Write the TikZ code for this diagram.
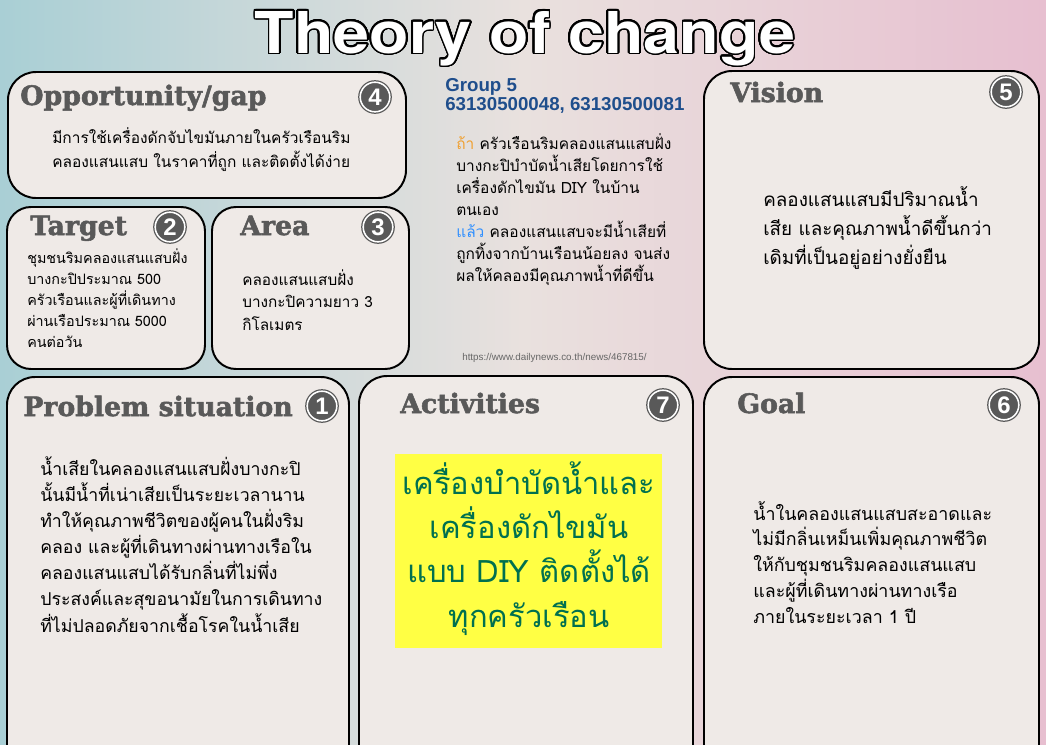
\documentclass[tikz,border=0pt]{standalone}
\usepackage{fontspec}
\usepackage{contour}
\setmainfont{Liberation Sans}
\newfontfamily\thaifont[Script=Thai]{Loma}
\newfontfamily\headfont[BoldFeatures={FakeBold=2}]{DejaVu Serif}
\newfontfamily\titlefont[FakeStretch=1.12]{TeX Gyre Heros}
\usetikzlibrary{positioning}
\contourlength{1.2pt}
\contournumber{32}

\definecolor{bgteal}{HTML}{A9CFD5}
\definecolor{bgmid}{HTML}{E9E1DE}
\definecolor{bgpink}{HTML}{E7BFD0}
\definecolor{cardfill}{HTML}{EFEAE7}
\definecolor{headgrey}{HTML}{595959}
\definecolor{groupblue}{HTML}{1F4E8C}
\definecolor{ifyellow}{HTML}{F0A030}
\definecolor{thenblue}{HTML}{2F8FFF}
\definecolor{actgreen}{HTML}{00704F}
\definecolor{actyellow}{HTML}{FFFF44}
\definecolor{urlgrey}{HTML}{666666}

\tikzset{
  card/.style={draw=black, line width=1.4pt, fill=cardfill, rounded corners=0.7cm},
  smallcard/.style={card, rounded corners=0.6cm},
  head/.style={anchor=base west, inner sep=0pt, text=headgrey,
    font=\headfont\bfseries\fontsize{19}{22}\selectfont},
  badge/.style={circle, fill=headgrey, draw=headgrey, double=white,
    double distance=1.1pt, line width=0.9pt, minimum size=0.74cm, inner sep=0pt,
    text=white, font=\bfseries\fontsize{17}{17}\selectfont},
  % anchor at the baseline of the last line
  body/.style 2 args={anchor=base west, inner sep=0pt, align=left,
    font=\thaifont\fontsize{#1}{#2}\selectfont},
  titletext/.style={anchor=base, inner sep=0pt, text=white, font=\titlefont\bfseries\fontsize{41}{41}\selectfont}
}

\begin{document}
\begin{tikzpicture}[x=0.025cm, y=-0.025cm]
  \useasboundingbox (0,0) rectangle (1046,744);
  \clip (0,0) rectangle (1046,744);
  % background
  \fill[left color=bgteal, right color=bgpink, middle color=bgmid] (0,0) rectangle (1046,744);

  % title
  \node[titletext] (title) at (525,53) {\contour{black}{Theory of change}};

  % cards
  \path[card] (8,72) rectangle (406,198);
  \path[smallcard] (7,207) rectangle (205,369);
  \path[smallcard] (212,207) rectangle (409,369);
  \path[card] (704,71) rectangle (1039,369);
  \path[card] (7,377) rectangle (349,790);
  \path[card] (359,376) rectangle (693,790);
  \path[card] (704,377) rectangle (1039,790);

  % opportunity
  \node[head] (opphead) at (20,105) {Opportunity/gap};
  \node[badge] (oppnum) at (375,97) {4};
  \node[body={11}{17}] (opptext) at (52,167)
    {มีการใช้เครื่องดักจับไขมันภายในครัวเรือนริม\\คลองแสนแสบ ในราคาที่ถูก และติดตั้งได้ง่าย};

  % target
  \node[head] (targethead) at (30,235) {Target};
  \node[badge] (targetnum) at (170,227) {2};
  \node[body={10.2}{14.9}] (targettext) at (27,347)
    {ชุมชนริมคลองแสนแสบฝั่ง\\บางกะปิประมาณ 500\\ครัวเรือนและผู้ที่เดินทาง\\ผ่านเรือประมาณ 5000\\คนต่อวัน};

  % area
  \node[head] (areahead) at (240,235) {Area};
  \node[badge] (areanum) at (378,227) {3};
  \node[body={10.9}{16}] (areatext) at (242,330)
    {คลองแสนแสบฝั่ง\\บางกะปิความยาว 3\\กิโลเมตร};

  % group and if-then
  \node[anchor=base west, inner sep=0pt, align=left, text=groupblue,
    font=\bfseries\fontsize{13.3}{13}\selectfont] (group) at (445,110)
    {Group 5\\63130500048, 63130500081};
  \node[body={11}{15.6}] (ifthen) at (456,281)
    {{\color{ifyellow}ถ้า} ครัวเรือนริมคลองแสนแสบฝั่ง\\บางกะปิบำบัดน้ำเสียโดยการใช้\\เครื่องดักไขมัน DIY ในบ้าน\\ตนเอง\\{\color{thenblue}แล้ว} คลองแสนแสบจะมีน้ำเสียที่\\ถูกทิ้งจากบ้านเรือนน้อยลง จนส่ง\\ผลให้คลองมีคุณภาพน้ำที่ดีขึ้น};
  \node[anchor=base west, inner sep=0pt, text=urlgrey, font=\fontsize{7}{8}\selectfont]
    (source) at (462,360) {https://www.dailynews.co.th/news/467815/};

  % vision
  \node[head] (visionhead) at (730,102) {Vision};
  \node[badge] (visionnum) at (1006,92) {5};
  \node[body={13.4}{20.6}] (visiontext) at (763,264)
    {คลองแสนแสบมีปริมาณน้ำ\\เสีย และคุณภาพน้ำดีขึ้นกว่า\\เดิมที่เป็นอยู่อย่างยั่งยืน};

  % problem situation
  \node[head] (probhead) at (23,416) {Problem situation};
  \node[badge] (probnum) at (322,406) {1};
  \node[body={12.6}{18.5}] (probtext) at (40,632)
    {น้ำเสียในคลองแสนแสบฝั่งบางกะปิ\\นั้นมีน้ำที่เน่าเสียเป็นระยะเวลานาน\\ทำให้คุณภาพชีวิตของผู้คนในฝั่งริม\\คลอง และผู้ที่เดินทางผ่านทางเรือใน\\คลองแสนแสบได้รับกลิ่นที่ไม่พึ่ง\\ประสงค์และสุขอนามัยในการเดินทาง\\ที่ไม่ปลอดภัยจากเชื้อโรคในน้ำเสีย};

  % activities
  \node[head] (acthead) at (400,413) {Activities};
  \node[badge] (actnum) at (663,405) {7};
  \fill[actyellow] (395,454) rectangle (662,648);
  \node[anchor=base, inner sep=0pt, align=center, text=actgreen,
    font=\thaifont\fontsize{22}{31.3}\selectfont] (acttext) at (529,627)
    {เครื่องบำบัดน้ำและ\\เครื่องดักไขมัน\\แบบ DIY ติดตั้งได้\\ทุกครัวเรือน};

  % goal
  \node[head] (goalhead) at (737,413) {Goal};
  \node[badge] (goalnum) at (1004,405) {6};
  \node[body={12.7}{18.3}] (goaltext) at (753,623)
    {น้ำในคลองแสนแสบสะอาดและ\\ไม่มีกลิ่นเหม็นเพิ่มคุณภาพชีวิต\\ให้กับชุมชนริมคลองแสนแสบ\\และผู้ที่เดินทางผ่านทางเรือ\\ภายในระยะเวลา 1 ปี};
\end{tikzpicture}
\end{document}
